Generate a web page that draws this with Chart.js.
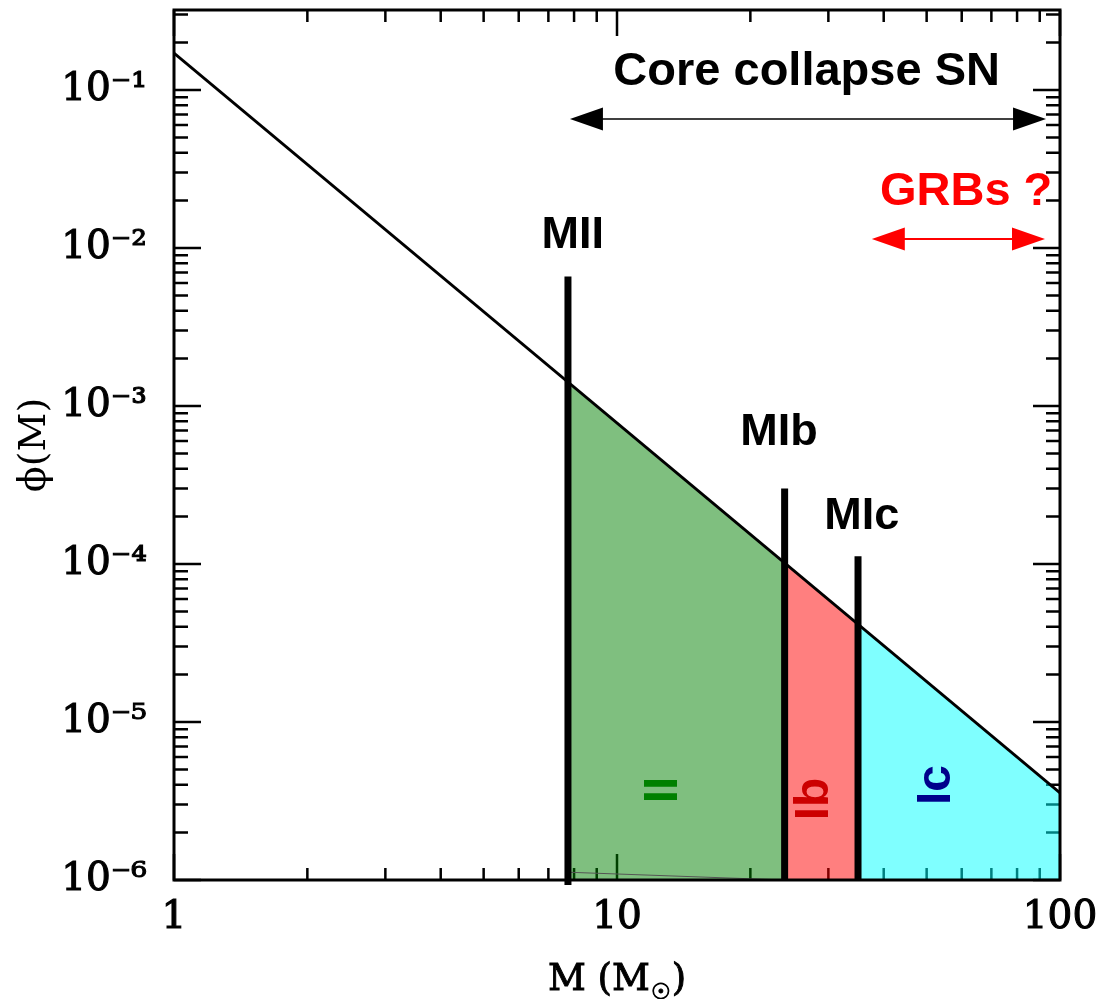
<!DOCTYPE html>
<html>
<head>
<meta charset="utf-8">
<script src="https://cdn.jsdelivr.net/npm/chart.js@4.4.1/dist/chart.umd.min.js"></script>
<style>
  html, body { margin: 0; padding: 0; background: #fff; }
  #wrap { width: 1105px; height: 999px; }
</style>
</head>
<body>
<div id="wrap"><canvas id="imf" width="1105" height="999"></canvas></div>
<script>
const imfMass = [1, 100];
const imfPhi = [0.171, 3.56e-6];

// mass cuts between SN types and phi(M) on the line at each cut
const cutMass = [7.75, 23.9, 35.0, 100];
const cutPhi = [1.42e-3, 1.015e-4, 4.15e-5, 3.56e-6];
const regionNames = ["II", "Ib", "Ic"];

// thick vertical markers
const markerNames = ["MII", "MIb", "MIc"];
const markerMass = [7.75, 23.9, 35.0];
const markerTop = [6.6e-3, 3.0e-4, 1.12e-4];
const markerBottom = [0.93e-6, 1e-6, 1e-6];

// faint lower edge of the II polygon
const edgeMass = [7.75, 23.9];
const edgePhi = [1.12e-6, 1.0e-6];

// arrows: mass range and height
const arrowFrom = [7.83, 37.6];
const arrowTo = [93.0, 92.5];
const arrowPhi = [0.0655, 0.0114];

// axes
const xMajor = [1, 10, 100];
const xTickLabels = ["1", "10", "100"];
const yMajor = [1e-6, 1e-5, 1e-4, 1e-3, 1e-2, 1e-1];
const yTickLabels = ["10⁻⁶", "10⁻⁵", "10⁻⁴", "10⁻³", "10⁻²", "10⁻¹"];
const yMax = 0.3208;

const regionFill = ["rgba(0,128,0,0.5)", "rgba(255,0,0,0.5)", "rgba(0,255,255,0.5)"];
const regionText = ["#008000", "#cc0000", "#00008b"];

function withMinors(major, max) {
  const out = [];
  major.forEach((d) => {
    for (let m = 1; m <= 9; m++) {
      const v = m === 1 ? d : d * m;
      if (v <= max * 1.0001) out.push(v);
    }
  });
  return out;
}
const xTicks = withMinors(xMajor, 100);
const yTicks = withMinors(yMajor, yMax);

function labelFor(v, major, labels) {
  const i = major.findIndex((d) => Math.abs(v / d - 1) < 1e-6);
  return i < 0 ? "" : labels[i];
}
function isMajor(v) {
  const l = Math.log10(v);
  return Math.abs(l - Math.round(l)) < 1e-6;
}

// text placed in data units
const notes = [
  { text: "Core collapse SN", x: 26.8, y: 0.1076, color: "#000" },
  { text: "GRBs ?", x: 61.4, y: 0.0187, color: "#ff0000" },
  { text: markerNames[0], x: 7.95, y: 0.01, color: "#000" },
  { text: markerNames[1], x: 23.2, y: 5.66e-4, color: "#000" },
  { text: markerNames[2], x: 35.7, y: 1.67e-4, color: "#000" },
];
const regionLabelAt = [
  { x: 12.77, y: 3.71e-6 },
  { x: 27.9, y: 3.26e-6 },
  { x: 52.8, y: 3.99e-6 },
];

const datasets = [];
regionNames.forEach((name, i) => {
  datasets.push({
    label: name,
    data: [
      { x: cutMass[i], y: cutPhi[i] },
      { x: cutMass[i + 1], y: cutPhi[i + 1] },
    ],
    fill: "start",
    backgroundColor: regionFill[i],
    borderWidth: 0,
    pointRadius: 0,
    order: 3,
  });
});
datasets.push({
  label: "edge",
  data: edgeMass.map((m, i) => ({ x: m, y: edgePhi[i] })),
  borderColor: "#555",
  borderWidth: 1,
  pointRadius: 0,
  fill: false,
  order: 2,
});
datasets.push({
  label: "IMF",
  data: imfMass.map((m, i) => ({ x: m, y: imfPhi[i] })),
  borderColor: "#000",
  borderWidth: 2.8,
  pointRadius: 0,
  fill: false,
  order: 1,
});
markerNames.forEach((name, i) => {
  datasets.push({
    label: name,
    data: [
      { x: markerMass[i], y: markerBottom[i] },
      { x: markerMass[i], y: markerTop[i] },
    ],
    borderColor: "#000",
    borderWidth: 7,
    pointRadius: 0,
    fill: false,
    clip: false,
    order: 0,
  });
});

const serif = '"DejaVu Serif", serif';

const frame = {
  id: "frame",
  beforeDatasetsDraw(chart) {
    const { ctx, chartArea: a, scales } = chart;
    ctx.save();
    ctx.strokeStyle = "#000";
    ctx.lineWidth = 2.5;
    ctx.beginPath();
    xTicks.forEach((v) => {
      const px = scales.x.getPixelForValue(v);
      const len = isMajor(v) ? 26 : 12;
      ctx.moveTo(px, a.bottom);
      ctx.lineTo(px, a.bottom - len);
      ctx.moveTo(px, a.top);
      ctx.lineTo(px, a.top + len);
    });
    yTicks.forEach((v) => {
      const py = scales.y.getPixelForValue(v);
      const len = isMajor(v) ? 27 : 14;
      ctx.moveTo(a.left, py);
      ctx.lineTo(a.left + len, py);
      ctx.moveTo(a.right, py);
      ctx.lineTo(a.right - len, py);
    });
    ctx.stroke();
    ctx.restore();
  },
  afterDatasetsDraw(chart) {
    const { ctx, chartArea: a } = chart;
    ctx.save();
    ctx.strokeStyle = "#000";
    ctx.lineWidth = 3;
    ctx.strokeRect(a.left, a.top, a.right - a.left, a.bottom - a.top);
    ctx.restore();
  },
  afterDraw(chart) {
    const { ctx, scales } = chart;
    const sx = scales.x, sy = scales.y;
    ctx.save();

    // double arrows
    arrowFrom.forEach((m, i) => {
      const x0 = sx.getPixelForValue(m);
      const x1 = sx.getPixelForValue(arrowTo[i]);
      const y = sy.getPixelForValue(arrowPhi[i]);
      const color = i === 0 ? "#000" : "#ff0000";
      ctx.strokeStyle = color;
      ctx.fillStyle = color;
      ctx.lineWidth = i === 0 ? 1.5 : 2;
      ctx.beginPath();
      ctx.moveTo(x0 + 20, y);
      ctx.lineTo(x1 - 20, y);
      ctx.stroke();
      ctx.beginPath();
      ctx.moveTo(x0, y);
      ctx.lineTo(x0 + 33, y - 11.5);
      ctx.lineTo(x0 + 33, y + 11.5);
      ctx.closePath();
      ctx.moveTo(x1, y);
      ctx.lineTo(x1 - 33, y - 11.5);
      ctx.lineTo(x1 - 33, y + 11.5);
      ctx.closePath();
      ctx.fill();
    });

    // annotation text
    ctx.textAlign = "center";
    ctx.textBaseline = "alphabetic";
    notes.forEach((n, i) => {
      ctx.font = 'bold ' + (i < 2 ? 47 : 45) + 'px "Liberation Sans", Arial, sans-serif';
      ctx.fillStyle = n.color;
      ctx.fillText(n.text, sx.getPixelForValue(n.x), sy.getPixelForValue(n.y));
    });

    // rotated region labels
    ctx.font = 'bold 48px "Liberation Sans", Arial, sans-serif';
    ctx.textBaseline = "middle";
    regionNames.forEach((name, i) => {
      ctx.save();
      ctx.translate(sx.getPixelForValue(regionLabelAt[i].x), sy.getPixelForValue(regionLabelAt[i].y));
      ctx.rotate(-Math.PI / 2);
      ctx.fillStyle = regionText[i];
      ctx.fillText(name, 0, 0);
      ctx.restore();
    });

    // x axis title with subscript sun symbol
    const big = "37px " + serif;
    const small = '22px "DejaVu Sans", sans-serif';
    ctx.fillStyle = "#000";
    ctx.strokeStyle = "#000";
    ctx.lineWidth = 0.9;
    ctx.textAlign = "left";
    ctx.textBaseline = "alphabetic";
    ctx.font = big;
    const w1 = ctx.measureText("M (M").width;
    const w3 = ctx.measureText(")").width;
    ctx.font = small;
    const w2 = ctx.measureText("☉").width + 2;
    const cx = (chart.chartArea.left + chart.chartArea.right) / 2;
    let x = cx - (w1 + w2 + w3) / 2;
    const base = 990;
    ctx.font = big;
    ctx.fillText("M (M", x, base);
    ctx.strokeText("M (M", x, base);
    x += w1;
    ctx.font = small;
    ctx.fillText("☉", x + 1, base + 9);
    ctx.strokeText("☉", x + 1, base + 9);
    x += w2;
    ctx.font = big;
    ctx.fillText(")", x, base);
    ctx.strokeText(")", x, base);

    ctx.restore();
  },
};

new Chart(document.getElementById("imf"), {
  type: "line",
  data: { datasets },
  options: {
    responsive: false,
    animation: false,
    layout: { padding: { top: 10, right: 45, left: 0, bottom: 0 } },
    plugins: { legend: { display: false }, tooltip: { enabled: false } },
    scales: {
      x: {
        type: "logarithmic",
        min: 1,
        max: 100,
        afterBuildTicks: (s) => { s.ticks = xTicks.map((v) => ({ value: v })); },
        afterFit: (s) => { s.height = 119; s.paddingLeft = 0; s.paddingRight = 0; },
        grid: { display: false, drawTicks: false },
        border: { display: false },
        ticks: {
          autoSkip: false,
          maxRotation: 0,
          padding: 14,
          color: "#000",
          textStrokeColor: "#000",
          textStrokeWidth: 1.1,
          font: { family: "DejaVu Serif", size: 39 },
          callback: (v) => labelFor(v, xMajor, xTickLabels),
        },
      },
      y: {
        type: "logarithmic",
        min: 1e-6,
        max: yMax,
        afterBuildTicks: (s) => { s.ticks = yTicks.map((v) => ({ value: v })); },
        afterFit: (s) => { s.width = 174; s.paddingTop = 0; s.paddingBottom = 0; },
        grid: { display: false, drawTicks: false },
        border: { display: false },
        ticks: {
          autoSkip: false,
          padding: 27,
          color: "#000",
          textStrokeColor: "#000",
          textStrokeWidth: 1.1,
          font: { family: "DejaVu Serif", size: 39 },
          callback: (v) => labelFor(v, yMajor, yTickLabels),
        },
        title: {
          display: true,
          text: "ϕ(M)",
          color: "#000",
          font: { family: "DejaVu Serif", size: 38 },
          padding: { top: 12, bottom: 0 },
        },
      },
    },
  },
  plugins: [frame],
});
</script>
</body>
</html>
